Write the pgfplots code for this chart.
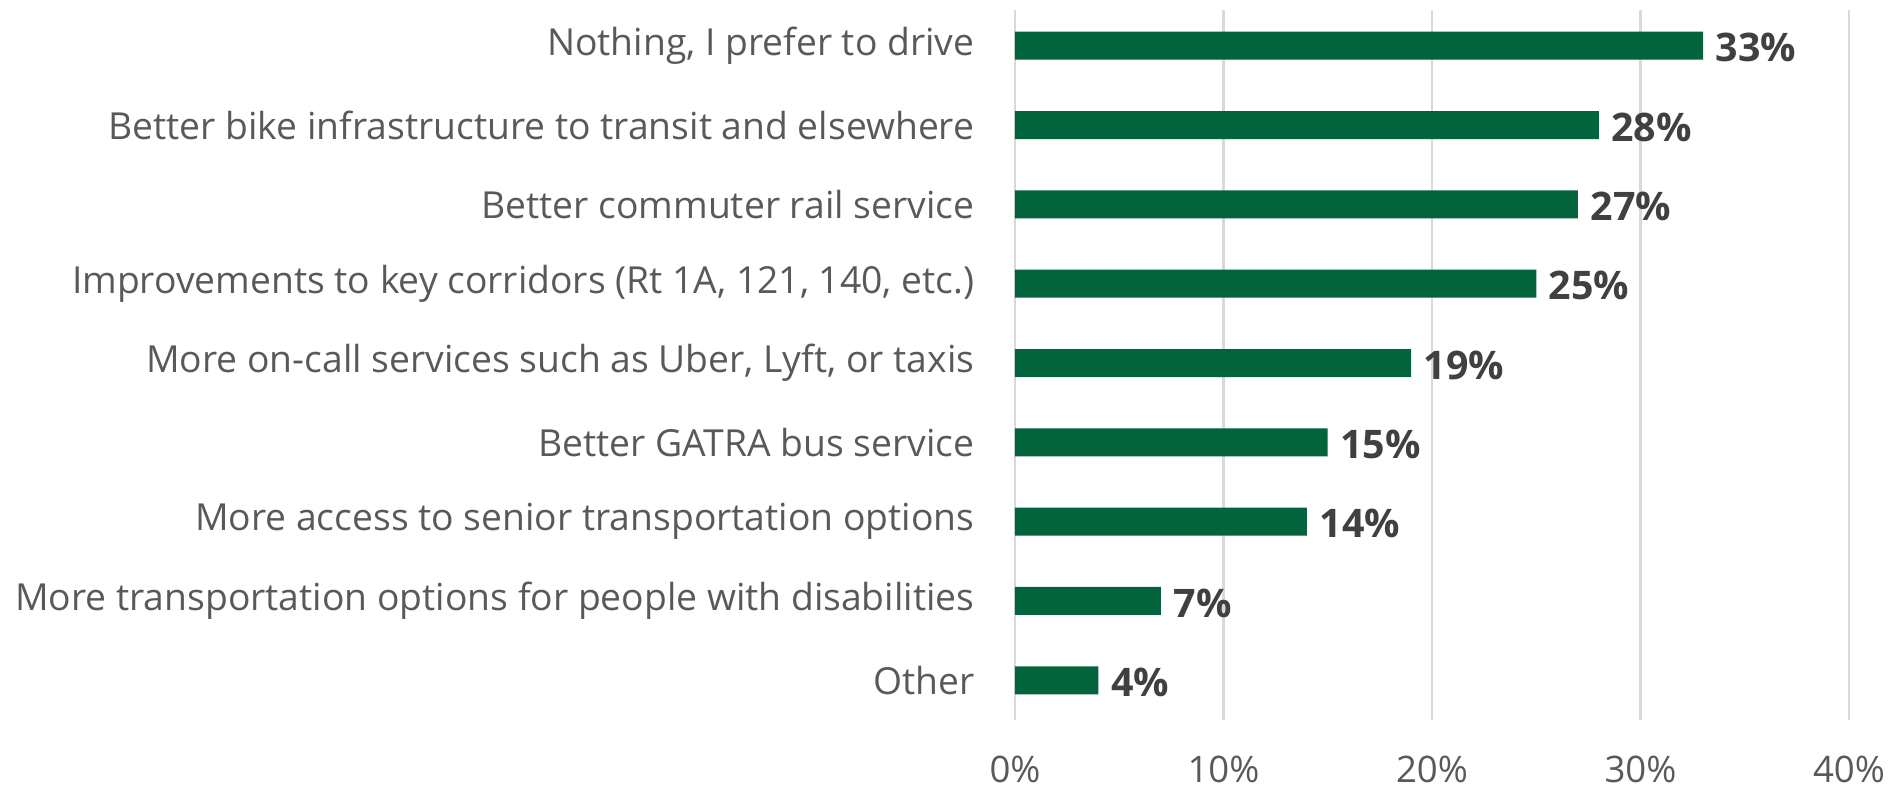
\documentclass[border=0pt]{standalone}
\usepackage{fontspec}
\setmainfont{Open Sans}
\usepackage{pgfplots}
\pgfplotsset{compat=1.18}
\usetikzlibrary{calc}
\definecolor{barGreen}{HTML}{03633D}
\definecolor{lblGray}{HTML}{595959}
\definecolor{valGray}{HTML}{404040}
\definecolor{gridGray}{HTML}{D9D9D9}

\begin{document}
\begin{tikzpicture}
\begin{axis}[
  name=ax,
  scale only axis,
  width=8.34cm, height=7.10cm,
  xbar, bar width=0.28cm,
  xmin=0, xmax=40,
  ymin=-0.45, ymax=8.5,
  y dir=reverse,
  ytick={0,...,8},
  yticklabels={
    {Nothing, I prefer to drive},
    {Better bike infrastructure to transit and elsewhere},
    {Better commuter rail service},
    {Improvements to key corridors (Rt 1A, 121, 140, etc.)},
    {More on-call services such as Uber, Lyft, or taxis},
    {Better GATRA bus service},
    {More access to senior transportation options},
    {More transportation options for people with disabilities},
    {Other}
  },
  xtick={0,10,20,30,40},
  /pgf/number format/assume math mode=true,
  xticklabel={\pgfmathprintnumber{\tick}\%},
  axis line style={draw=none},
  major tick length=0pt,
  xmajorgrids, ymajorgrids=false,
  grid style={gridGray, line width=0.6pt},
  yticklabel style={font=\fontsize{10.6}{12}\selectfont, text=lblGray, inner sep=0pt, anchor=east, xshift=-0.4cm},
  xticklabel style={font=\fontsize{10.4}{12}\selectfont, text=lblGray, inner sep=0pt, anchor=north, yshift=-0.35cm},
  point meta=x,
  nodes near coords={\pgfmathprintnumber{\pgfplotspointmeta}\%},
  nodes near coords style={font=\fontsize{11.2}{13}\selectfont\bfseries, text=valGray, anchor=west, inner sep=0pt, xshift=0.12cm, yshift=-0.02cm},
]
\addplot[fill=barGreen, draw=none] coordinates {
  (33,0) (28,1) (27,2) (25,3) (19,4) (15,5) (14,6) (7,7) (4,8)
};
\end{axis}
\pgfresetboundingbox
\path[use as bounding box] ($(ax.south west)+(-10.15cm,-0.73cm)$) rectangle ($(ax.north east)+(0.43cm,0.10cm)$);
\end{tikzpicture}
\end{document}
